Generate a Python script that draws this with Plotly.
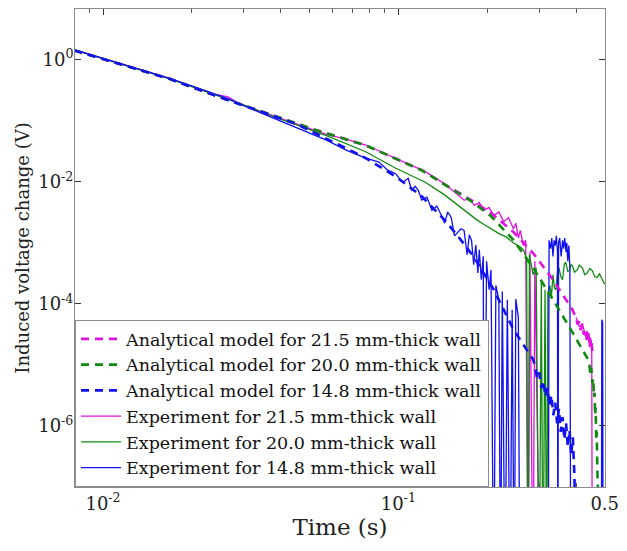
import plotly.graph_objects as go

# ---------------- data ----------------
# Analytical model, 21.5 mm wall
t_am = [0.008, 0.0123, 0.0167, 0.0245, 0.036, 0.0529, 0.0776, 0.0977, 0.120, 0.1435,
        0.1765, 0.2057, 0.2455, 0.286, 0.334, 0.389, 0.40, 0.405, 0.41, 0.415, 0.42,
        0.425, 0.43, 0.435, 0.44, 0.445, 0.45, 0.455]
v_am = [1.42, 0.77, 0.49, 0.249, 0.131, 0.0695, 0.0395, 0.0243, 0.0155, 0.0091,
        0.0050, 0.0031, 0.0015, 0.00068, 0.00025, 8.0e-5, 5.8e-5, 4.6e-5, 5.2e-5, 3.7e-5, 4.5e-5,
        3.1e-5, 3.9e-5, 2.5e-5, 3.3e-5, 2.0e-5, 2.7e-5, 1.5e-5]

# Analytical model, 20.0 mm wall
t_ag = [0.008, 0.0123, 0.0167, 0.0245, 0.036, 0.0529, 0.0776, 0.0977, 0.120, 0.1435,
        0.1765, 0.2057, 0.2455, 0.286, 0.334, 0.389, 0.420, 0.443, 0.447, 0.450, 0.454,
        0.457, 0.460, 0.462, 0.464, 0.466, 0.468, 0.470, 0.472, 0.474]
v_ag = [1.42, 0.77, 0.49, 0.249, 0.131, 0.0695, 0.0395, 0.0243, 0.0154, 0.0090,
        0.00483, 0.00275, 0.00111, 0.00039, 0.000118, 3.4e-5, 1.8e-5, 1.14e-5, 7e-6, 9e-6, 5e-6,
        6e-6, 3e-6, 3.5e-6, 1.5e-6, 2e-6, 6e-7, 8e-7, 2e-7, 1e-7]

# Analytical model, 14.8 mm wall
t_ab = [0.008, 0.0123, 0.0167, 0.0245, 0.036, 0.0454, 0.0666, 0.0776, 0.0977, 0.120,
        0.1435, 0.158, 0.181, 0.2105, 0.2455, 0.286, 0.29, 0.295, 0.30, 0.305, 0.31,
        0.315, 0.32, 0.325, 0.33, 0.335, 0.34, 0.345, 0.35, 0.355, 0.36, 0.365, 0.37,
        0.375, 0.38, 0.385, 0.39, 0.395, 0.40]
v_ab = [1.42, 0.77, 0.49, 0.249, 0.131, 0.087, 0.0353, 0.0243, 0.0123, 0.0058,
        0.00236, 0.00135, 0.00057, 0.000171, 3.8e-5, 1.23e-5, 1.0e-5, 6e-6, 7.5e-6, 4.2e-6, 5.5e-6,
        3.0e-6, 4.2e-6, 2.1e-6, 3.2e-6, 1.5e-6, 2.4e-6, 1.1e-6, 1.9e-6, 8e-7, 1.4e-6, 6e-7, 1.1e-6,
        4.5e-7, 8.5e-7, 3.3e-7, 6.5e-7, 1.5e-7, 1e-9]

# Experiment, 21.5 mm wall (None = gap, 1e-9 = value below the axis floor)
t_em = [0.008, 0.0098, 0.0123, 0.0167, 0.0211, 0.024, 0.0265, 0.029, 0.0309, 0.036,
        0.0454, 0.0571, 0.0666, 0.0776, 0.0977, 0.110, 0.123, 0.1435, 0.155, 0.161,
        0.167, 0.174, 0.181, 0.188, 0.195, 0.203, 0.2105, 0.219, 0.2275, 0.236,
        0.2455, 0.25, 0.255, 0.259, 0.265, 0.270, 0.2754, 0.279, 0.286, 0.29, 0.302,
        None, 0.40, 0.41, 0.42, 0.43, 0.436, 0.443, 0.448, 0.452, 0.454]
v_em = [1.45, 1.08, 0.78, 0.50, 0.335, 0.27, 0.245, 0.19, 0.17, 0.13,
        0.088, 0.060, 0.050, 0.040, 0.0245, 0.019, 0.0148, 0.0093, 0.0068, 0.0059,
        0.0050, 0.0052, 0.0041, 0.0046, 0.0034, 0.0038, 0.0028, 0.0032, 0.0022, 0.0026,
        0.0017, 0.0021, 0.0012, 0.0016, 0.0009, 0.0011, 1e-9, 0.0007, 1e-9, 0.0005, 1e-9,
        None, 6.0e-5, 4.2e-5, 4.8e-5, 3.0e-5, 3.6e-5, 2.2e-5, 2.8e-5, 1.6e-5, 1e-9]

# Experiment, 20.0 mm wall
t_eg = [0.008, 0.0098, 0.0123, 0.0167, 0.0211, 0.0265, 0.0309, 0.036, 0.0454, 0.0571,
        0.0776, 0.0977, 0.110, 0.123, 0.1435, 0.155, 0.167, 0.175, 0.184, 0.195,
        0.2105, 0.22, 0.232, 0.245, 0.259, 0.266, 0.272, 0.275, 0.278, 0.283,
        0.286, 0.293, 0.30, 0.305, 0.309, 0.314, 0.318, 0.321, 0.326, 0.330,
        0.334, 0.338, 0.342, 0.346, 0.35, 0.355, 0.36, 0.365, 0.369, 0.375,
        0.38, 0.385, 0.389, 0.395, 0.404, 0.41, 0.42, 0.428, 0.436, 0.445,
        0.454, 0.462, 0.471, 0.48, 0.489, 0.495, 0.5]
v_eg = [1.45, 1.07, 0.77, 0.49, 0.33, 0.225, 0.172, 0.127, 0.085, 0.057,
        0.031, 0.0168, 0.0128, 0.0099, 0.0061, 0.0046, 0.0034, 0.0029, 0.0024, 0.0020,
        0.0016, 0.0014, 0.00125, 0.0010, 0.00085, 0.00075, 0.00053, 1e-9, 0.00064, 0.0004,
        0.0003, 0.00039, 1e-9, 0.00025, 1e-9, 0.00017, 1e-9, 0.00015, 0.0002, 0.00013,
        0.0003, 0.00018, 0.00017, 0.00033, 0.00039, 0.00028, 0.00025, 0.00045, 0.00048, 0.00034,
        0.00035, 0.00044, 0.00042, 0.00033, 0.00036, 0.00043, 0.00039, 0.00030, 0.00032, 0.00038,
        0.00035, 0.00028, 0.00027, 0.00031, 0.00025, 0.00023, 0.00021]

# Experiment, 14.8 mm wall
t_eb = [0.008, 0.0098, 0.0123, 0.0167, 0.0211, 0.0265, 0.0309, 0.036, 0.0454, 0.0571,
        0.0666, 0.0776, 0.086, 0.092, 0.0977, 0.1035, 0.108, 0.111, 0.114, 0.117,
        0.120, 0.125, 0.130, 0.135, 0.140, 0.1435, 0.147, 0.151, 0.155, 0.158,
        0.163, 0.167, 0.171, 0.174, 0.177, 0.180, 0.183, 0.186, 0.188, 0.191,
        0.194, 0.195, 0.199, 0.203, 0.206, 0.2105, 0.214, 0.219, 0.222, 0.225,
        0.23, 0.234, 0.239, 0.243, 0.247, 0.25, 0.255, 0.258,
        None, 0.322, 0.324, 0.328, 0.331, 0.334, 0.337, 0.340, 0.343, 0.346, 0.347,
        0.349, 0.352, 0.356, 0.36, 0.363, 0.366, 0.37, 0.372, 0.375, 0.378, 0.381, 0.384,
        None, 0.487, 0.489, 0.492, 0.494]
v_eb = [1.45, 1.08, 0.77, 0.50, 0.34, 0.23, 0.165, 0.122, 0.075, 0.048,
        0.033, 0.0243, 0.021, 0.0155, 0.0137, 0.0098, 0.0114, 0.0072, 0.0084, 0.0072,
        0.0050, 0.0056, 0.0034, 0.0040, 0.0028, 0.0021, 0.0032, 0.0026, 0.0013, 0.00145,
        0.0017, 0.0016, 0.00064, 0.00135, 0.0011, 0.00044, 0.00092, 0.00032, 0.00077, 0.00025,
        0.0006, 1e-9, 0.0005, 0.00017, 0.00036, 1e-9, 0.0002, 0.000117, 1e-9, 0.00016,
        1e-9, 0.000117, 1e-9, 8e-5, 1e-9, 0.00012, 6e-5, 1e-9,
        None, 1e-9, 0.0011, 0.0008, 0.0012, 0.0006, 0.0011, 0.0009, 0.0013, 0.0007, 1e-9,
        0.0010, 0.0012, 0.0006, 0.0011, 0.0008, 0.0012, 0.0007, 0.0010, 0.0005, 0.0009, 0.0004, 1e-9,
        None, 1e-9, 5.5e-5, 5e-5, 1e-9]

names = ["Analytical model for 21.5 mm-thick wall",
         "Analytical model for 20.0 mm-thick wall",
         "Analytical model for 14.8 mm-thick wall",
         "Experiment for 21.5 mm-thick wall",
         "Experiment for 20.0 mm-thick wall",
         "Experiment for 14.8 mm-thick wall"]

x_tickvals = [0.01, 0.1, 0.5]
x_ticktext = ["10<sup>-2</sup>", "10<sup>-1</sup>", "0.5"]
x_minor = [0.008, 0.009, 0.02, 0.03, 0.04, 0.05, 0.06, 0.07, 0.08, 0.09, 0.2, 0.3, 0.4]
y_tickvals = [1e-6, 1e-4, 1e-2, 1]
y_ticktext = ["10<sup>-6</sup>", "10<sup>-4</sup>", "10<sup>-2</sup>", "10<sup>0</sup>"]

# ---------------- styles ----------------
MAG, GRN, BLU = "#e010e0", "#118a11", "#1010f0"
FONT = "DejaVu Serif"

fig = go.Figure()
exp_series = [(t_em, v_em, MAG, names[3], 4), (t_eg, v_eg, GRN, names[4], 5), (t_eb, v_eb, BLU, names[5], 6)]
for t, v, c, n, r in exp_series:
    fig.add_trace(go.Scatter(x=t, y=v, mode="lines", name=n, legendrank=r,
                             line=dict(color=c, width=1.3)))
ana_series = [(t_am, v_am, MAG, names[0], 1), (t_ag, v_ag, GRN, names[1], 2), (t_ab, v_ab, BLU, names[2], 3)]
for t, v, c, n, r in ana_series:
    fig.add_trace(go.Scatter(x=t, y=v, mode="lines", name=n, legendrank=r,
                             line=dict(color=c, width=2.6, dash="8px,6px")))

axis_common = dict(type="log", showline=True, mirror="ticks", linecolor="#8c8c8c", linewidth=1,
                   ticks="inside", tickcolor="#333", ticklen=6, showgrid=False, zeroline=False,
                   tickfont=dict(family=FONT, size=18, color="#222"))
fig.update_xaxes(**axis_common, range=[-2.095, -0.3], tickmode="array",
                 tickvals=x_tickvals, ticktext=x_ticktext, ticklabelstandoff=0,
                 ticklabeloverflow="allow",
                 minor=dict(ticks="inside", ticklen=4, tickcolor="#555", tickvals=x_minor),
                 title=dict(text="Time (s)", font=dict(family=FONT, size=23, color="#222"), standoff=6))
fig.update_yaxes(**axis_common, range=[-7.0, 0.83], tickmode="array",
                 tickvals=y_tickvals, ticktext=y_ticktext, ticklabelstandoff=-3,
                 title=dict(text="Induced voltage change (V)", font=dict(family=FONT, size=18, color="#222"), standoff=3))

fig.update_layout(
    width=627, height=551,
    margin=dict(l=75, r=13, t=8, b=64),
    paper_bgcolor="white", plot_bgcolor="white",
    showlegend=True,
    legend=dict(x=0, y=0, xanchor="left", yanchor="bottom", bgcolor="white",
                bordercolor="#8c8c8c", borderwidth=1, itemwidth=40,
                font=dict(family=FONT, size=17.5, color="#111"),
                tracegroupgap=0),
)

fig.write_html("out.html")
